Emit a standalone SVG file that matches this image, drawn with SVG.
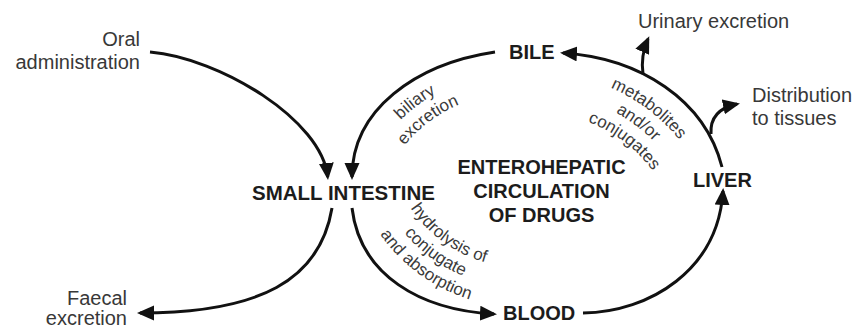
<svg xmlns="http://www.w3.org/2000/svg" width="856" height="329" viewBox="0 0 856 329">
<style>
.lbl{font-family:"Liberation Sans",Arial,sans-serif;font-size:20px;fill:#383838}
.node{font-family:"Liberation Sans",Arial,sans-serif;font-size:20px;font-weight:bold;fill:#1c1c1c}
.sm{font-family:"Liberation Sans",Arial,sans-serif;font-size:17px;fill:#3a3a3a}
.edge{fill:none;stroke:#111;stroke-width:3;marker-end:url(#ah)}
</style>
<defs>
<marker id="ah" markerUnits="userSpaceOnUse" markerWidth="19" markerHeight="17" refX="14" refY="7.5" orient="auto">
<path d="M0,0 L17,7.5 L0,15 z" fill="#111"/>
</marker>
<path id="pA1" d="M376.6,150.9 A160,160 0 0 1 472.3,78.7"/>
<path id="pA2" d="M393.7,161.2 A140,140 0 0 1 477.4,98.1"/>
<path id="pB1" d="M586.2,79.4 A180,180 0 0 1 693.9,160.6"/>
<path id="pB2" d="M581.0,98.8 A160,160 0 0 1 676.8,170.9"/>
<path id="pB3" d="M575.8,118.1 A140,140 0 0 1 659.6,181.2"/>
<path id="pC1" d="M404.6,197.8 A130,130 0 0 0 496.8,264.8"/>
<path id="pC2" d="M387.0,207.2 A150,150 0 0 0 493.4,284.5"/>
<path id="pC3" d="M369.3,216.6 A170,170 0 0 0 489.9,304.2"/>
</defs>
<rect width="856" height="329" fill="#fff"/>
<g id="connectors">
<path class="edge" d="M150,52 C220,58 322,120 327.7,177"/>
<path class="edge" d="M495,52 C415,64 352,110 352,177"/>
<path class="edge" d="M332,208 C320,280 260,313 140,313"/>
<path class="edge" d="M352,208 C360,275 420,310 494,314"/>
<path class="edge" d="M583,313 C650,312 718,270 723,191"/>
<path class="edge" d="M722,167 C705,100 640,58 563,53"/>
<path class="edge" d="M643,74 C641,60 643,50 648,39"/>
<path class="edge" d="M711,134 C710,118 718,108 737,104"/>
</g>
<g id="oral"><text class="lbl" text-anchor="end" x="140" y="46">Oral</text><text class="lbl" text-anchor="end" x="140" y="69">administration</text></g>
<g id="faecal"><text class="lbl" text-anchor="end" x="127" y="305">Faecal</text><text class="lbl" text-anchor="end" x="127" y="325">excretion</text></g>
<g id="urinary"><text class="lbl" x="638" y="28">Urinary excretion</text></g>
<g id="distribution"><text class="lbl" x="752" y="102">Distribution</text><text class="lbl" x="752" y="125">to tissues</text></g>
<g id="small-intestine"><text class="node" text-anchor="middle" x="343.5" y="199.5" style="font-size:20.5px">SMALL INTESTINE</text></g>
<g id="bile"><text class="node" x="509" y="59">BILE</text></g>
<g id="liver"><text class="node" x="693" y="187">LIVER</text></g>
<g id="blood"><text class="node" x="503" y="320">BLOOD</text></g>
<g id="title"><text class="node" text-anchor="middle" x="541.5" y="173.5">ENTEROHEPATIC</text><text class="node" text-anchor="middle" x="541.5" y="197.5">CIRCULATION</text><text class="node" text-anchor="middle" x="541.5" y="221.5">OF DRUGS</text></g>
<g id="label-biliary">
<text class="sm" text-anchor="middle"><textPath href="#pA1" startOffset="50%">biliary</textPath></text>
<text class="sm" text-anchor="middle"><textPath href="#pA2" startOffset="50%">excretion</textPath></text>
</g>
<g id="label-metabolites">
<text class="sm" text-anchor="middle"><textPath href="#pB1" startOffset="50%">metabolites</textPath></text>
<text class="sm" text-anchor="middle"><textPath href="#pB2" startOffset="50%">and/or</textPath></text>
<text class="sm" text-anchor="middle"><textPath href="#pB3" startOffset="50%">conjugates</textPath></text>
</g>
<g id="label-hydrolysis">
<text class="sm" text-anchor="middle"><textPath href="#pC1" startOffset="50%">hydrolysis of</textPath></text>
<text class="sm" text-anchor="middle"><textPath href="#pC2" startOffset="50%">conjugate</textPath></text>
<text class="sm" text-anchor="middle"><textPath href="#pC3" startOffset="50%">and absorption</textPath></text>
</g>
</svg>
